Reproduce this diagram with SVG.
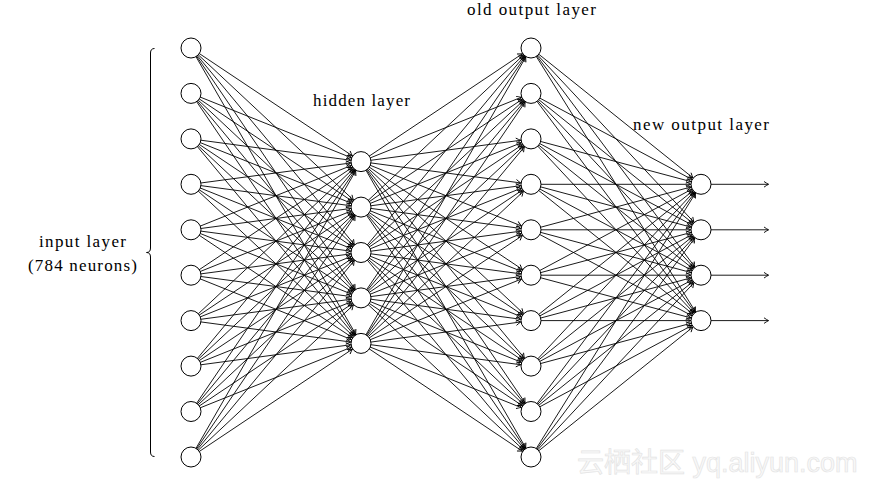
<svg xmlns="http://www.w3.org/2000/svg" width="876" height="489" viewBox="0 0 876 489">
<style>
.e line{stroke:#000;stroke-width:0.9;marker-end:url(#a)}
.o line{stroke:#000;stroke-width:0.9;marker-end:url(#b)}
circle{fill:#fff;stroke:#000;stroke-width:1}
text{font-family:"Liberation Serif","DejaVu Serif",serif;font-size:17px;fill:#000;text-anchor:middle}
.wm{font-family:"Liberation Sans","Noto Sans CJK SC",sans-serif;font-size:27px;fill:#f9f9f9;stroke:#e4e4e4;stroke-width:0.7;text-anchor:start}
</style>
<defs>
<marker id="a" markerUnits="userSpaceOnUse" orient="auto" refX="10.5" refY="0" markerWidth="1" markerHeight="1" overflow="visible">
<path d="M-4.5,-2.8 Q-1.5,-0.8 0,0 Q-1.5,0.8 -4.5,2.8" fill="none" stroke="#000" stroke-width="0.9"/>
</marker>
<marker id="b" markerUnits="userSpaceOnUse" orient="auto" refX="0" refY="0" markerWidth="1" markerHeight="1" overflow="visible">
<path d="M-4.5,-2.8 Q-1.5,-0.8 0,0 Q-1.5,0.8 -4.5,2.8" fill="none" stroke="#000" stroke-width="0.9"/>
</marker>
</defs>
<g id="connectors">
<g class="e">
<line x1="191" y1="48" x2="361" y2="161.6"/><line x1="191" y1="93.4" x2="361" y2="161.6"/><line x1="191" y1="138.9" x2="361" y2="161.6"/><line x1="191" y1="184.3" x2="361" y2="161.6"/><line x1="191" y1="229.8" x2="361" y2="161.6"/><line x1="191" y1="275.2" x2="361" y2="161.6"/><line x1="191" y1="320.6" x2="361" y2="161.6"/><line x1="191" y1="366.1" x2="361" y2="161.6"/><line x1="191" y1="411.5" x2="361" y2="161.6"/><line x1="191" y1="457" x2="361" y2="161.6"/>
<line x1="191" y1="48" x2="361" y2="207.1"/><line x1="191" y1="93.4" x2="361" y2="207.1"/><line x1="191" y1="138.9" x2="361" y2="207.1"/><line x1="191" y1="184.3" x2="361" y2="207.1"/><line x1="191" y1="229.8" x2="361" y2="207.1"/><line x1="191" y1="275.2" x2="361" y2="207.1"/><line x1="191" y1="320.6" x2="361" y2="207.1"/><line x1="191" y1="366.1" x2="361" y2="207.1"/><line x1="191" y1="411.5" x2="361" y2="207.1"/><line x1="191" y1="457" x2="361" y2="207.1"/>
<line x1="191" y1="48" x2="361" y2="252.5"/><line x1="191" y1="93.4" x2="361" y2="252.5"/><line x1="191" y1="138.9" x2="361" y2="252.5"/><line x1="191" y1="184.3" x2="361" y2="252.5"/><line x1="191" y1="229.8" x2="361" y2="252.5"/><line x1="191" y1="275.2" x2="361" y2="252.5"/><line x1="191" y1="320.6" x2="361" y2="252.5"/><line x1="191" y1="366.1" x2="361" y2="252.5"/><line x1="191" y1="411.5" x2="361" y2="252.5"/><line x1="191" y1="457" x2="361" y2="252.5"/>
<line x1="191" y1="48" x2="361" y2="297.9"/><line x1="191" y1="93.4" x2="361" y2="297.9"/><line x1="191" y1="138.9" x2="361" y2="297.9"/><line x1="191" y1="184.3" x2="361" y2="297.9"/><line x1="191" y1="229.8" x2="361" y2="297.9"/><line x1="191" y1="275.2" x2="361" y2="297.9"/><line x1="191" y1="320.6" x2="361" y2="297.9"/><line x1="191" y1="366.1" x2="361" y2="297.9"/><line x1="191" y1="411.5" x2="361" y2="297.9"/><line x1="191" y1="457" x2="361" y2="297.9"/>
<line x1="191" y1="48" x2="361" y2="343.4"/><line x1="191" y1="93.4" x2="361" y2="343.4"/><line x1="191" y1="138.9" x2="361" y2="343.4"/><line x1="191" y1="184.3" x2="361" y2="343.4"/><line x1="191" y1="229.8" x2="361" y2="343.4"/><line x1="191" y1="275.2" x2="361" y2="343.4"/><line x1="191" y1="320.6" x2="361" y2="343.4"/><line x1="191" y1="366.1" x2="361" y2="343.4"/><line x1="191" y1="411.5" x2="361" y2="343.4"/><line x1="191" y1="457" x2="361" y2="343.4"/>
<line x1="361" y1="161.6" x2="531" y2="48"/><line x1="361" y1="207.1" x2="531" y2="48"/><line x1="361" y1="252.5" x2="531" y2="48"/><line x1="361" y1="297.9" x2="531" y2="48"/><line x1="361" y1="343.4" x2="531" y2="48"/>
<line x1="361" y1="161.6" x2="531" y2="93.4"/><line x1="361" y1="207.1" x2="531" y2="93.4"/><line x1="361" y1="252.5" x2="531" y2="93.4"/><line x1="361" y1="297.9" x2="531" y2="93.4"/><line x1="361" y1="343.4" x2="531" y2="93.4"/>
<line x1="361" y1="161.6" x2="531" y2="138.9"/><line x1="361" y1="207.1" x2="531" y2="138.9"/><line x1="361" y1="252.5" x2="531" y2="138.9"/><line x1="361" y1="297.9" x2="531" y2="138.9"/><line x1="361" y1="343.4" x2="531" y2="138.9"/>
<line x1="361" y1="161.6" x2="531" y2="184.3"/><line x1="361" y1="207.1" x2="531" y2="184.3"/><line x1="361" y1="252.5" x2="531" y2="184.3"/><line x1="361" y1="297.9" x2="531" y2="184.3"/><line x1="361" y1="343.4" x2="531" y2="184.3"/>
<line x1="361" y1="161.6" x2="531" y2="229.8"/><line x1="361" y1="207.1" x2="531" y2="229.8"/><line x1="361" y1="252.5" x2="531" y2="229.8"/><line x1="361" y1="297.9" x2="531" y2="229.8"/><line x1="361" y1="343.4" x2="531" y2="229.8"/>
<line x1="361" y1="161.6" x2="531" y2="275.2"/><line x1="361" y1="207.1" x2="531" y2="275.2"/><line x1="361" y1="252.5" x2="531" y2="275.2"/><line x1="361" y1="297.9" x2="531" y2="275.2"/><line x1="361" y1="343.4" x2="531" y2="275.2"/>
<line x1="361" y1="161.6" x2="531" y2="320.6"/><line x1="361" y1="207.1" x2="531" y2="320.6"/><line x1="361" y1="252.5" x2="531" y2="320.6"/><line x1="361" y1="297.9" x2="531" y2="320.6"/><line x1="361" y1="343.4" x2="531" y2="320.6"/>
<line x1="361" y1="161.6" x2="531" y2="366.1"/><line x1="361" y1="207.1" x2="531" y2="366.1"/><line x1="361" y1="252.5" x2="531" y2="366.1"/><line x1="361" y1="297.9" x2="531" y2="366.1"/><line x1="361" y1="343.4" x2="531" y2="366.1"/>
<line x1="361" y1="161.6" x2="531" y2="411.5"/><line x1="361" y1="207.1" x2="531" y2="411.5"/><line x1="361" y1="252.5" x2="531" y2="411.5"/><line x1="361" y1="297.9" x2="531" y2="411.5"/><line x1="361" y1="343.4" x2="531" y2="411.5"/>
<line x1="361" y1="161.6" x2="531" y2="457"/><line x1="361" y1="207.1" x2="531" y2="457"/><line x1="361" y1="252.5" x2="531" y2="457"/><line x1="361" y1="297.9" x2="531" y2="457"/><line x1="361" y1="343.4" x2="531" y2="457"/>
<line x1="531" y1="48" x2="701" y2="184.3"/><line x1="531" y1="93.4" x2="701" y2="184.3"/><line x1="531" y1="138.9" x2="701" y2="184.3"/><line x1="531" y1="184.3" x2="701" y2="184.3"/><line x1="531" y1="229.8" x2="701" y2="184.3"/><line x1="531" y1="275.2" x2="701" y2="184.3"/><line x1="531" y1="320.6" x2="701" y2="184.3"/><line x1="531" y1="366.1" x2="701" y2="184.3"/><line x1="531" y1="411.5" x2="701" y2="184.3"/><line x1="531" y1="457" x2="701" y2="184.3"/>
<line x1="531" y1="48" x2="701" y2="229.8"/><line x1="531" y1="93.4" x2="701" y2="229.8"/><line x1="531" y1="138.9" x2="701" y2="229.8"/><line x1="531" y1="184.3" x2="701" y2="229.8"/><line x1="531" y1="229.8" x2="701" y2="229.8"/><line x1="531" y1="275.2" x2="701" y2="229.8"/><line x1="531" y1="320.6" x2="701" y2="229.8"/><line x1="531" y1="366.1" x2="701" y2="229.8"/><line x1="531" y1="411.5" x2="701" y2="229.8"/><line x1="531" y1="457" x2="701" y2="229.8"/>
<line x1="531" y1="48" x2="701" y2="275.2"/><line x1="531" y1="93.4" x2="701" y2="275.2"/><line x1="531" y1="138.9" x2="701" y2="275.2"/><line x1="531" y1="184.3" x2="701" y2="275.2"/><line x1="531" y1="229.8" x2="701" y2="275.2"/><line x1="531" y1="275.2" x2="701" y2="275.2"/><line x1="531" y1="320.6" x2="701" y2="275.2"/><line x1="531" y1="366.1" x2="701" y2="275.2"/><line x1="531" y1="411.5" x2="701" y2="275.2"/><line x1="531" y1="457" x2="701" y2="275.2"/>
<line x1="531" y1="48" x2="701" y2="320.6"/><line x1="531" y1="93.4" x2="701" y2="320.6"/><line x1="531" y1="138.9" x2="701" y2="320.6"/><line x1="531" y1="184.3" x2="701" y2="320.6"/><line x1="531" y1="229.8" x2="701" y2="320.6"/><line x1="531" y1="275.2" x2="701" y2="320.6"/><line x1="531" y1="320.6" x2="701" y2="320.6"/><line x1="531" y1="366.1" x2="701" y2="320.6"/><line x1="531" y1="411.5" x2="701" y2="320.6"/><line x1="531" y1="457" x2="701" y2="320.6"/>
</g>
<g class="o">
<line x1="711" y1="184.3" x2="768.5" y2="184.3"/><line x1="711" y1="229.8" x2="768.5" y2="229.8"/><line x1="711" y1="275.2" x2="768.5" y2="275.2"/><line x1="711" y1="320.6" x2="768.5" y2="320.6"/>
</g>
</g>
<g id="input-layer">
<circle id="i1" cx="191" cy="48" r="10"/><circle id="i2" cx="191" cy="93.4" r="10"/><circle id="i3" cx="191" cy="138.9" r="10"/><circle id="i4" cx="191" cy="184.3" r="10"/><circle id="i5" cx="191" cy="229.8" r="10"/><circle id="i6" cx="191" cy="275.2" r="10"/><circle id="i7" cx="191" cy="320.6" r="10"/><circle id="i8" cx="191" cy="366.1" r="10"/><circle id="i9" cx="191" cy="411.5" r="10"/><circle id="i10" cx="191" cy="457" r="10"/>
</g>
<g id="hidden-layer">
<circle id="h1" cx="361" cy="161.6" r="10"/><circle id="h2" cx="361" cy="207.1" r="10"/><circle id="h3" cx="361" cy="252.5" r="10"/><circle id="h4" cx="361" cy="297.9" r="10"/><circle id="h5" cx="361" cy="343.4" r="10"/>
</g>
<g id="old-output-layer">
<circle id="o1" cx="531" cy="48" r="10"/><circle id="o2" cx="531" cy="93.4" r="10"/><circle id="o3" cx="531" cy="138.9" r="10"/><circle id="o4" cx="531" cy="184.3" r="10"/><circle id="o5" cx="531" cy="229.8" r="10"/><circle id="o6" cx="531" cy="275.2" r="10"/><circle id="o7" cx="531" cy="320.6" r="10"/><circle id="o8" cx="531" cy="366.1" r="10"/><circle id="o9" cx="531" cy="411.5" r="10"/><circle id="o10" cx="531" cy="457" r="10"/>
</g>
<g id="new-output-layer">
<circle id="n1" cx="701" cy="184.3" r="10"/><circle id="n2" cx="701" cy="229.8" r="10"/><circle id="n3" cx="701" cy="275.2" r="10"/><circle id="n4" cx="701" cy="320.6" r="10"/>
</g>
<g id="brace">
<path d="M154.5,48.5 Q150.5,48.5 150.5,53 L150.5,248 Q150.5,252.5 146.5,252.5 Q150.5,252.5 150.5,257 L150.5,452 Q150.5,456.5 154.5,456.5" fill="none" stroke="#000" stroke-width="1"/>
</g>
<g id="labels">
<text x="82.5" y="247" textLength="87" lengthAdjust="spacing">input layer</text>
<text x="82.5" y="270.5" textLength="109" lengthAdjust="spacing">(784 neurons)</text>
<text x="361.5" y="106" textLength="97" lengthAdjust="spacing">hidden layer</text>
<text x="531.5" y="15" textLength="129" lengthAdjust="spacing">old output layer</text>
<text x="701" y="130" textLength="136" lengthAdjust="spacing">new output layer</text>
</g>
<text class="wm" x="577" y="472">云栖社区 yq.aliyun.com</text>
</svg>
